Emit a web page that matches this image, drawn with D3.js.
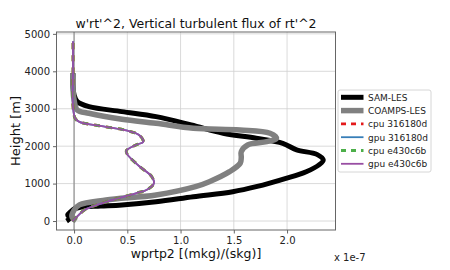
<!DOCTYPE html>
<html>
<head>
<meta charset="utf-8">
<script src="https://cdn.jsdelivr.net/npm/d3@7"></script>
<style>
  body { margin: 0; background: #fff; }
  svg { display: block; font-family: "DejaVu Sans", sans-serif; }
</style>
</head>
<body>
<div id="chart"></div>
<script>
// ---- data (wprtp2 in units of 1e-7, height in m) ----
var samHeight = [0, 80, 160, 250, 320, 370, 400, 430, 515, 650, 783, 917, 1140, 1318, 1500, 1630, 1780, 1900, 2077, 2211, 2345, 2567, 2789, 2923, 3056, 3190, 3370, 3600, 3950];
var samWprtp2 = [-0.07, -0.04, -0.06, -0.03, 0.0, 0.06, 0.25, 0.45, 0.77, 1.12, 1.49, 1.71, 1.99, 2.18, 2.30, 2.34, 2.28, 2.09, 1.96, 1.71, 1.40, 1.10, 0.77, 0.45, 0.14, 0.03, 0.0, -0.01, -0.01];

var coampsHeight = [0, 115, 290, 430, 560, 695, 917, 1050, 1318, 1543, 1700, 1853, 2032, 2120, 2211, 2345, 2433, 2478, 2612, 2719, 2879, 2968, 3235, 3600, 3950];
var coampsWprtp2 = [0.02, -0.02, 0.0, 0.05, 0.30, 0.77, 1.14, 1.27, 1.46, 1.56, 1.57, 1.57, 1.63, 1.81, 1.90, 1.84, 1.56, 1.12, 0.77, 0.45, 0.14, 0.03, 0.0, -0.01, -0.01];

var modelHeight = [0, 150, 300, 500, 740, 829, 1008, 1185, 1470, 1780, 1880, 2032, 2120, 2300, 2420, 2560, 2650, 2745, 3056, 4000, 4800];
var modelWprtp2 = [-0.015, 0.04, 0.10, 0.29, 0.58, 0.68, 0.75, 0.73, 0.61, 0.50, 0.49, 0.58, 0.65, 0.61, 0.49, 0.20, 0.05, 0.01, -0.01, -0.01, -0.01];

var xTicks = [0, 0.5, 1.0, 1.5, 2.0];
var yTicks = [0, 1000, 2000, 3000, 4000, 5000];

var seriesNames = ["SAM-LES", "COAMPS-LES", "cpu 316180d", "gpu 316180d", "cpu e430c6b", "gpu e430c6b"];

// ---- layout ----
var width = 450, height = 270;
var margin = {left: 56.5, top: 32, right: 114.5, bottom: 40};

var svg = d3.select("#chart").append("svg")
    .attr("width", width)
    .attr("height", height);

var x = d3.scaleLinear().domain([-0.165, 2.455]).range([margin.left, width - margin.right]);
var y = d3.scaleLinear().domain([-240, 5050]).range([height - margin.bottom, margin.top]);

// grid
svg.append("g").selectAll("line").data(xTicks).enter().append("line")
    .attr("x1", d => x(d)).attr("x2", d => x(d))
    .attr("y1", margin.top).attr("y2", height - margin.bottom)
    .attr("stroke", "#d0d0d0").attr("stroke-width", 0.8);
svg.append("g").selectAll("line").data(yTicks).enter().append("line")
    .attr("x1", margin.left).attr("x2", width - margin.right)
    .attr("y1", d => y(d)).attr("y2", d => y(d))
    .attr("stroke", "#d0d0d0").attr("stroke-width", 0.8);

// zero line
svg.append("line")
    .attr("x1", x(0)).attr("x2", x(0))
    .attr("y1", margin.top).attr("y2", height - margin.bottom)
    .attr("stroke", "#808080").attr("stroke-width", 1);

var line = d3.line()
    .x(d => x(d[0]))
    .y(d => y(d[1]))
    .curve(d3.curveCatmullRom.alpha(0.5));

function pairs(xs, hs) { return xs.map((v, i) => [v, hs[i]]); }

var styles = [
  {name: seriesNames[0], data: pairs(samWprtp2, samHeight), color: "#000000", w: 5, dash: null},
  {name: seriesNames[1], data: pairs(coampsWprtp2, coampsHeight), color: "#808080", w: 5.5, dash: null},
  {name: seriesNames[2], data: pairs(modelWprtp2, modelHeight), color: "#e41a1c", w: 2.8, dash: "6,6"},
  {name: seriesNames[3], data: pairs(modelWprtp2, modelHeight), color: "#377eb8", w: 1.8, dash: null},
  {name: seriesNames[4], data: pairs(modelWprtp2, modelHeight), color: "#4daf4a", w: 2.8, dash: "6,6"},
  {name: seriesNames[5], data: pairs(modelWprtp2, modelHeight), color: "#984ea3", w: 1.8, dash: null}
];

svg.append("g").selectAll("path").data(styles).enter().append("path")
    .attr("d", d => line(d.data))
    .attr("fill", "none")
    .attr("stroke", d => d.color)
    .attr("stroke-width", d => d.w)
    .attr("stroke-dasharray", d => d.dash)
    .attr("stroke-linejoin", "round");

// frame
svg.append("rect")
    .attr("x", margin.left).attr("y", margin.top)
    .attr("width", width - margin.right - margin.left)
    .attr("height", height - margin.bottom - margin.top)
    .attr("fill", "none").attr("stroke", "#666").attr("stroke-width", 1);

// axes
var xAxis = svg.append("g")
    .attr("transform", "translate(0," + (height - margin.bottom) + ")")
    .call(d3.axisBottom(x).tickValues(xTicks).tickFormat(d3.format(".1f")).tickSize(3.5).tickPadding(3));
var yAxis = svg.append("g")
    .attr("transform", "translate(" + margin.left + ",0)")
    .call(d3.axisLeft(y).tickValues(yTicks).tickFormat(d3.format("d")).tickSize(3.5).tickPadding(3));
[xAxis, yAxis].forEach(function(g) {
  g.select(".domain").remove();
  g.selectAll("line").attr("stroke", "#666");
  g.selectAll("text").attr("font-size", 10).attr("fill", "#222").attr("font-family", "DejaVu Sans");
});

// title & labels
svg.append("text")
    .attr("x", (margin.left + width - margin.right) / 2).attr("y", 28)
    .attr("text-anchor", "middle").attr("font-size", 12.5).attr("fill", "#111")
    .text("w'rt'^2, Vertical turbulent flux of rt'^2");
svg.append("text")
    .attr("x", (margin.left + width - margin.right) / 2).attr("y", 258)
    .attr("text-anchor", "middle").attr("font-size", 12.5).attr("fill", "#111")
    .text("wprtp2 [(mkg)/(skg)]");
svg.append("text")
    .attr("transform", "translate(20," + ((margin.top + height - margin.bottom) / 2) + ") rotate(-90)")
    .attr("text-anchor", "middle").attr("font-size", 13).attr("fill", "#111")
    .text("Height [m]");
svg.append("text")
    .attr("x", 334).attr("y", 261)
    .attr("font-size", 10).attr("fill", "#222")
    .text("x 1e-7");

// legend
var legend = svg.append("g").attr("transform", "translate(338,90)");
legend.append("rect")
    .attr("width", 93).attr("height", 82).attr("rx", 2)
    .attr("fill", "#fff").attr("stroke", "#ccc").attr("stroke-width", 0.8);
var item = legend.selectAll("g.item").data(styles).enter().append("g")
    .attr("class", "item")
    .attr("transform", (d, i) => "translate(0," + (7.3 + i * 13.3) + ")");
item.append("line")
    .attr("x1", 3).attr("x2", 25.5)
    .attr("stroke", d => d.color)
    .attr("stroke-width", d => d.w)
    .attr("stroke-dasharray", d => d.dash ? "5,5" : null);
item.append("text")
    .attr("x", 30).attr("y", 3.3)
    .attr("font-size", 9).attr("fill", "#222")
    .text(d => d.name);
</script>
</body>
</html>
